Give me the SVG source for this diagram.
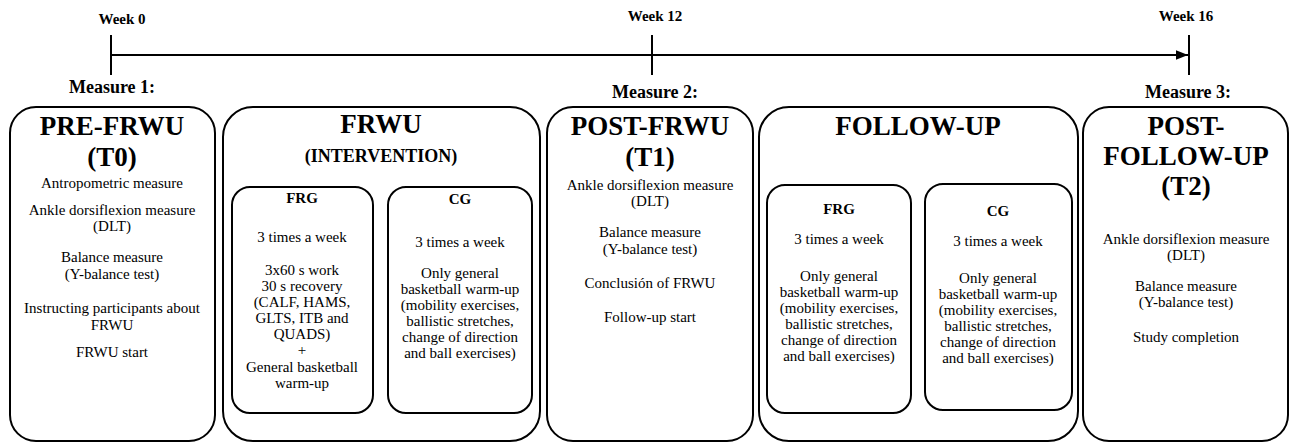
<svg xmlns="http://www.w3.org/2000/svg" width="1292" height="444" viewBox="0 0 1292 444">
<style>
text{font-family:"Liberation Serif","Times New Roman","DejaVu Serif",serif;fill:#000;text-anchor:middle}
.wk{font-size:15px;font-weight:bold}
.ms{font-size:18px;font-weight:bold}
.tt{font-size:27px;font-weight:bold}
.st{font-size:18px;font-weight:bold}
.gl{font-size:15px;font-weight:bold}
.bd{font-size:15px}
.box{fill:#fff;stroke:#000;stroke-width:2}
.ln{stroke:#000;stroke-width:2;fill:none}
</style>
<defs>
<marker id="arr" viewBox="0 0 10 10" refX="10" refY="5" markerWidth="6" markerHeight="6" orient="auto" markerUnits="strokeWidth">
<path d="M0,1 L10,5 L0,9 z" fill="#000"/>
</marker>
</defs>
<rect width="1292" height="444" fill="#fff"/>
<g id="timeline">
<line class="ln" x1="111" y1="55" x2="1188" y2="55" marker-end="url(#arr)"/>
<line class="ln" x1="111" y1="35" x2="111" y2="75"/>
<line class="ln" x1="652" y1="35" x2="652" y2="75"/>
<line class="ln" x1="1189" y1="35" x2="1189" y2="75"/>
<text class="wk" x="122" y="24">Week 0</text>
<text class="wk" x="655" y="21">Week 12</text>
<text class="wk" x="1186" y="21">Week 16</text>
<text class="ms" x="112" y="93">Measure 1:</text>
<text class="ms" x="655" y="98">Measure 2:</text>
<text class="ms" x="1188" y="98">Measure 3:</text>
</g>
<g id="pre-frwu">
<rect class="box" x="10" y="107" width="205" height="334" rx="26"/>
<text class="tt" x="112" y="135">PRE-FRWU</text>
<text class="tt" x="112" y="166">(T0)</text>
<text class="bd" x="112" y="188">Antropometric measure</text>
<text class="bd" x="112" y="215">Ankle dorsiflexion measure</text>
<text class="bd" x="112" y="231">(DLT)</text>
<text class="bd" x="112" y="262">Balance measure</text>
<text class="bd" x="112" y="279">(Y-balance test)</text>
<text class="bd" x="112" y="313">Instructing  participants about</text>
<text class="bd" x="112" y="330">FRWU</text>
<text class="bd" x="112" y="357">FRWU  start</text>
</g>
<g id="frwu">
<rect class="box" x="223" y="107" width="317" height="334" rx="30"/>
<text class="tt" x="381" y="133">FRWU</text>
<text class="st" x="381" y="162">(INTERVENTION)</text>
</g>
<g id="frwu-frg">
<rect class="box" x="232" y="187" width="141" height="226" rx="18"/>
<text class="gl" x="302" y="203">FRG</text>
<text class="bd" x="302" y="242">3 times a week</text>
<text class="bd" x="302" y="275">3x60  s work</text>
<text class="bd" x="302" y="291">30 s recovery</text>
<text class="bd" x="302" y="307">(CALF, HAMS,</text>
<text class="bd" x="302" y="323">GLTS, ITB and</text>
<text class="bd" x="302" y="339">QUADS)</text>
<text class="bd" x="302" y="355">+</text>
<text class="bd" x="302" y="372">General basketball</text>
<text class="bd" x="302" y="388">warm-up</text>
</g>
<g id="frwu-cg">
<rect class="box" x="388" y="187" width="144" height="226" rx="18"/>
<text class="gl" x="460" y="204">CG</text>
<text class="bd" x="460" y="247">3 times a week</text>
<text class="bd" x="460" y="278">Only general</text>
<text class="bd" x="460" y="294">basketball warm-up</text>
<text class="bd" x="460" y="310">(mobility exercises,</text>
<text class="bd" x="460" y="326">ballistic stretches,</text>
<text class="bd" x="460" y="342">change of direction</text>
<text class="bd" x="460" y="358">and ball exercises)</text>
</g>
<g id="post-frwu">
<rect class="box" x="547" y="107" width="206" height="334" rx="26"/>
<text class="tt" x="650" y="135">POST-FRWU</text>
<text class="tt" x="650" y="166">(T1)</text>
<text class="bd" x="650" y="190">Ankle dorsiflexion measure</text>
<text class="bd" x="650" y="206">(DLT)</text>
<text class="bd" x="650" y="237">Balance measure</text>
<text class="bd" x="650" y="254">(Y-balance test)</text>
<text class="bd" x="650" y="288">Conclusión of FRWU</text>
<text class="bd" x="650" y="322">Follow-up start</text>
</g>
<g id="follow-up">
<rect class="box" x="759" y="107" width="319" height="334" rx="30"/>
<text class="tt" x="918" y="135">FOLLOW-UP</text>
</g>
<g id="follow-frg">
<rect class="box" x="767" y="185" width="144" height="228" rx="18"/>
<text class="gl" x="839" y="214">FRG</text>
<text class="bd" x="839" y="244">3 times a week</text>
<text class="bd" x="839" y="281">Only general</text>
<text class="bd" x="839" y="297">basketball warm-up</text>
<text class="bd" x="839" y="313">(mobility exercises,</text>
<text class="bd" x="839" y="329">ballistic stretches,</text>
<text class="bd" x="839" y="345">change of direction</text>
<text class="bd" x="839" y="361">and ball exercises)</text>
</g>
<g id="follow-cg">
<rect class="box" x="925" y="184" width="147" height="226" rx="18"/>
<text class="gl" x="998" y="216">CG</text>
<text class="bd" x="998" y="246">3 times a week</text>
<text class="bd" x="998" y="283">Only general</text>
<text class="bd" x="998" y="299">basketball warm-up</text>
<text class="bd" x="998" y="315">(mobility exercises,</text>
<text class="bd" x="998" y="331">ballistic stretches,</text>
<text class="bd" x="998" y="347">change of direction</text>
<text class="bd" x="998" y="363">and ball exercises)</text>
</g>
<g id="post-follow-up">
<rect class="box" x="1083" y="107" width="205" height="334" rx="26"/>
<text class="tt" x="1186" y="135">POST-</text>
<text class="tt" x="1186" y="165">FOLLOW-UP</text>
<text class="tt" x="1186" y="195">(T2)</text>
<text class="bd" x="1186" y="244">Ankle dorsiflexion measure</text>
<text class="bd" x="1186" y="260">(DLT)</text>
<text class="bd" x="1186" y="291">Balance measure</text>
<text class="bd" x="1186" y="307">(Y-balance test)</text>
<text class="bd" x="1186" y="342">Study completion</text>
</g>
</svg>
